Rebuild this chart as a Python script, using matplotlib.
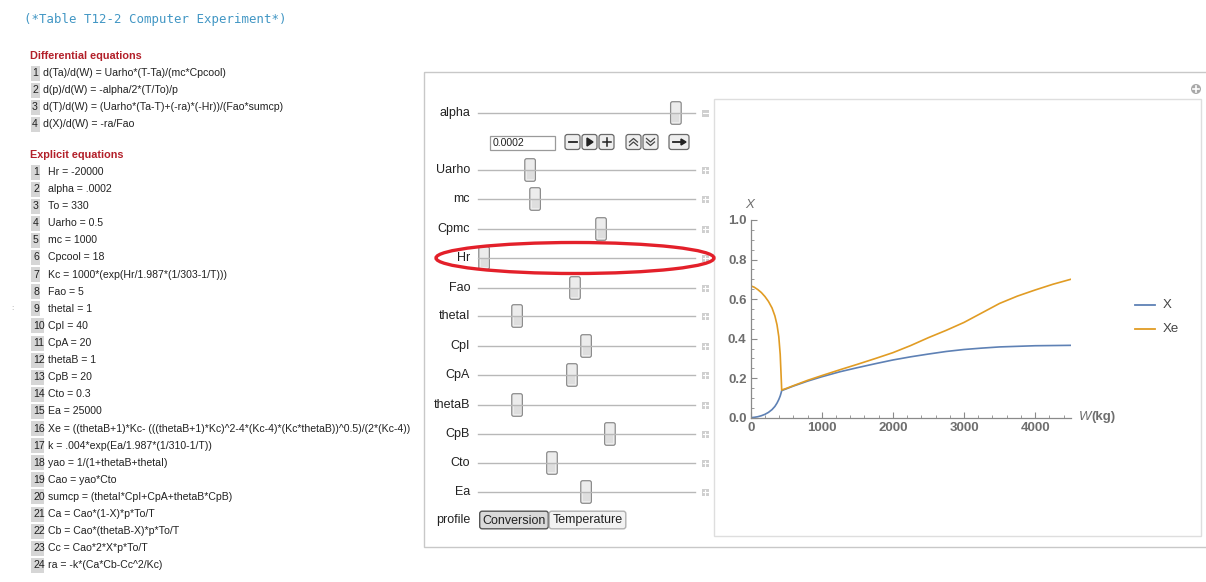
import matplotlib
matplotlib.use("Agg")
import matplotlib.pyplot as plt
from matplotlib.patches import Rectangle, FancyBboxPatch, Ellipse, Circle

# ---------------- data ----------------
title_text = "(*Table T12-2 Computer Experiment*)"
diff_title = "Differential equations"
diff_eqs = [
    "d(Ta)/d(W) = Uarho*(T-Ta)/(mc*Cpcool)",
    "d(p)/d(W) = -alpha/2*(T/To)/p",
    "d(T)/d(W) = (Uarho*(Ta-T)+(-ra)*(-Hr))/(Fao*sumcp)",
    "d(X)/d(W) = -ra/Fao",
]
expl_title = "Explicit equations"
expl_eqs = [
    "Hr = -20000",
    "alpha = .0002",
    "To = 330",
    "Uarho = 0.5",
    "mc = 1000",
    "Cpcool = 18",
    "Kc = 1000*(exp(Hr/1.987*(1/303-1/T)))",
    "Fao = 5",
    "thetaI = 1",
    "CpI = 40",
    "CpA = 20",
    "thetaB = 1",
    "CpB = 20",
    "Cto = 0.3",
    "Ea = 25000",
    "Xe = ((thetaB+1)*Kc- (((thetaB+1)*Kc)^2-4*(Kc-4)*(Kc*thetaB))^0.5)/(2*(Kc-4))",
    "k = .004*exp(Ea/1.987*(1/310-1/T))",
    "yao = 1/(1+thetaB+thetaI)",
    "Cao = yao*Cto",
    "sumcp = (thetaI*CpI+CpA+thetaB*CpB)",
    "Ca = Cao*(1-X)*p*To/T",
    "Cb = Cao*(thetaB-X)*p*To/T",
    "Cc = Cao*2*X*p*To/T",
    "ra = -k*(Ca*Cb-Cc^2/Kc)",
]
slider_names = ["alpha", "Uarho", "mc", "Cpmc", "Hr", "Fao", "thetaI",
                "CpI", "CpA", "thetaB", "CpB", "Cto", "Ea"]
slider_frac = [0.912, 0.240, 0.263, 0.567, 0.028, 0.447, 0.180,
               0.498, 0.433, 0.180, 0.608, 0.341, 0.498]
alpha_value = "0.0002"
profile_options = ["Conversion", "Temperature"]

W_kg = [0, 50, 100, 150, 200, 250, 300, 340, 370, 395, 415, 428, 436,
        500, 600, 800, 1000, 1250, 1500, 1750, 2000, 2250, 2500, 2750,
        3000, 3250, 3500, 3750, 4000, 4250, 4500]
X_conv = [0.0, 0.002, 0.005, 0.010, 0.017, 0.027, 0.041, 0.057, 0.074, 0.092,
          0.110, 0.126, 0.137,
          0.146, 0.160, 0.185, 0.207, 0.232, 0.253, 0.273, 0.292, 0.308,
          0.322, 0.335, 0.345, 0.352, 0.358, 0.361, 0.364, 0.365, 0.366]
Xe_eq = [0.667, 0.660, 0.648, 0.633, 0.613, 0.588, 0.555, 0.515, 0.470, 0.410,
         0.320, 0.210, 0.140,
         0.148, 0.162, 0.189, 0.213, 0.242, 0.270, 0.299, 0.329, 0.365,
         0.405, 0.442, 0.482, 0.530, 0.578, 0.615, 0.646, 0.675, 0.700]
xticks = [0, 1000, 2000, 3000, 4000]
yticks = [0.0, 0.2, 0.4, 0.6, 0.8, 1.0]
series_labels = ["X", "Xe"]

# ---------------- figure ----------------
FW, FH = 1206, 582
fig = plt.figure(figsize=(FW / 100, FH / 100), dpi=100)
fig.patch.set_facecolor("white")
bg = fig.add_axes([0, 0, 1, 1])
bg.set_xlim(0, FW)
bg.set_ylim(FH, 0)
bg.axis("off")

SANS = "Liberation Sans"

# title
bg.text(24, 20, title_text, family="DejaVu Sans Mono", fontsize=8.9,
        color="#4196c4", va="center", ha="left")

red = "#b3202a"
bg.text(30, 56, diff_title, family=SANS, fontsize=7.8, weight="bold",
        color=red, va="center")
for i, eq in enumerate(diff_eqs):
    y = 73 + 17 * i
    bg.add_patch(Rectangle((30.5, y - 7.5), 9, 15, facecolor="#d6d6d6",
                           edgecolor="none"))
    bg.text(35, y, str(i + 1), family=SANS, fontsize=7.6, color="#222",
            va="center", ha="center")
    bg.text(43, y, eq, family=SANS, fontsize=7.6, color="#222", va="center")

bg.text(30, 155.5, expl_title, family=SANS, fontsize=7.8, weight="bold",
        color=red, va="center")
for i, eq in enumerate(expl_eqs):
    y = 172 + 17.1 * i
    w = 9 if i < 9 else 13
    bg.add_patch(Rectangle((31, y - 7.5), w, 15, facecolor="#d6d6d6",
                           edgecolor="none"))
    bg.text(33, y, str(i + 1), family=SANS, fontsize=7.6, color="#222",
            va="center", ha="left")
    bg.text(48, y, eq, family=SANS, fontsize=7.6, color="#222", va="center")
bg.text(12, 309, ":", family=SANS, fontsize=6, color="#999", va="center",
        ha="center")

# panel
bg.add_patch(Rectangle((423.5, 71.5), 790, 475, facecolor="none",
                       edgecolor="#c8c8c8", lw=1))
bg.add_patch(Rectangle((713.5, 98.5), 487, 437.5, facecolor="none",
                       edgecolor="#dedede", lw=1))
bg.add_patch(Circle((1196, 89), 5, facecolor="#a8a8a8", edgecolor="none"))
bg.plot([1193, 1199], [89, 89], color="white", lw=1.2)
bg.plot([1196, 1196], [86, 92], color="white", lw=1.2)

# sliders
rows_y = [113, 170, 199, 229, 258, 288, 316, 346, 375, 405, 434, 463, 492]
TX0, TX1 = 478, 695
for name, fr, y in zip(slider_names, slider_frac, rows_y):
    bg.text(470, y, name, family=SANS, fontsize=9, color="#222",
            va="center", ha="right")
    bg.plot([TX0, TX1], [y, y], color="#b8b8b8", lw=1)
    cx = TX0 + fr * (TX1 - TX0)
    bg.add_patch(FancyBboxPatch((cx - 4.5, y - 10.5), 9, 21,
                                boxstyle="round,pad=0.8,rounding_size=2",
                                facecolor="#ececec", edgecolor="#8c8c8c",
                                lw=0.9))
    bg.add_patch(Rectangle((cx - 3.5, y + 1), 7, 8, facecolor="#dedede",
                           edgecolor="none"))
    bg.add_patch(Rectangle((701.5, y - 3.5), 7, 7, facecolor="#cfcfcf",
                           edgecolor="none"))
    bg.plot([702.5, 707.5], [y, y], color="white", lw=0.8)
    if name != "alpha":
        bg.plot([705, 705], [y - 2.5, y + 2.5], color="white", lw=0.8)

# alpha animator controls
cy = 142
bg.add_patch(Rectangle((489.5, 135.5), 65, 14, facecolor="white",
                       edgecolor="#9a9a9a", lw=0.9))
bg.text(493, cy + 0.5, alpha_value, family=SANS, fontsize=7.6, color="#222",
        va="center")
btns = [(565, 15), (582, 15), (599, 15), (626, 15), (643, 15), (669, 20)]
for bx, bw in btns:
    bg.add_patch(FancyBboxPatch((bx + 1, cy - 6.5), bw - 2, 13,
                                boxstyle="round,pad=1,rounding_size=2.5",
                                facecolor="#eeeeee", edgecolor="#6a6a6a",
                                lw=0.9))
k = "#222"
bg.plot([568.5, 576.5], [cy, cy], color=k, lw=1.3)
bg.fill([587, 587, 593], [cy - 4, cy + 4, cy], color=k)
bg.plot([602.5, 610.5], [cy, cy], color=k, lw=1.1)
bg.plot([606.5, 606.5], [cy - 4, cy + 4], color=k, lw=1.1)
for dy in (-2, 1.5):
    bg.plot([629.5, 633.5, 637.5], [cy + dy + 2, cy + dy - 1.5, cy + dy + 2],
            color="#444", lw=0.9)
    bg.plot([646.5, 650.5, 654.5], [cy + dy - 1.5, cy + dy + 2, cy + dy - 1.5],
            color="#444", lw=0.9)
bg.plot([672.5, 682], [cy, cy], color=k, lw=1.3)
bg.fill([681, 681, 686], [cy - 3, cy + 3, cy], color=k)

# profile setter
py = 520
bg.text(470, py, "profile", family=SANS, fontsize=9, color="#222",
        va="center", ha="right")
bg.add_patch(FancyBboxPatch((480.5, py - 8), 67, 16,
                            boxstyle="round,pad=0.8,rounding_size=2.5",
                            facecolor="#d9d9d9", edgecolor="#555555", lw=1))
bg.add_patch(FancyBboxPatch((550, py - 8), 75, 16,
                            boxstyle="round,pad=0.8,rounding_size=2.5",
                            facecolor="#f2f2f2", edgecolor="#b0b0b0", lw=1))
bg.text(514, py + 0.5, profile_options[0], family=SANS, fontsize=9,
        color="#222", va="center", ha="center")
bg.text(587.5, py + 0.5, profile_options[1], family=SANS, fontsize=9,
        color="#222", va="center", ha="center")

# red ellipse
bg.add_patch(Ellipse((575, 258), 278, 31, facecolor="none",
                     edgecolor="#e3202a", lw=2.4, zorder=10))

# ---------------- plot ----------------
x0, x1 = 750.7, 1070.7
yb, yt = 417.7, 220.0
ax = fig.add_axes([x0 / FW, 1 - yb / FH, (x1 - x0) / FW, (yb - yt) / FH])
ax.set_facecolor("none")
blue = "#5E81B5"
orange = "#E19C24"
ax.plot(W_kg, X_conv, color=blue, lw=1.2, label=series_labels[0])
ax.plot(W_kg, Xe_eq, color=orange, lw=1.2, label=series_labels[1])
ax.set_xlim(0, 4500)
ax.set_ylim(0, 1.0)
for s in ("top", "right"):
    ax.spines[s].set_visible(False)
axc = "#8a8a8a"
for s in ("left", "bottom"):
    ax.spines[s].set_color(axc)
    ax.spines[s].set_linewidth(0.9)
ax.set_xticks(xticks)
ax.set_yticks(yticks)
ax.set_yticklabels([f"{v:.1f}" for v in yticks])
ax.set_xticks([v for v in range(200, 4500, 200) if v % 1000], minor=True)
ax.set_yticks([i * 0.05 for i in range(21) if i % 4], minor=True)
ax.tick_params(which="both", direction="in", color=axc)
ax.tick_params(which="major", length=4, width=0.8, labelsize=9.5,
               labelcolor="#6e6e6e", pad=3)
ax.tick_params(which="minor", length=2.3, width=0.6)
for lab in ax.get_xticklabels() + ax.get_yticklabels():
    lab.set_fontweight("bold")
    lab.set_family(SANS)

bg.text(750, 205, "X", family=SANS, style="italic", fontsize=9.5,
        color="#6e6e6e", ha="center", va="center")
bg.text(1079, 417, "W", family=SANS, style="italic", fontsize=9.5,
        color="#6e6e6e", ha="left", va="center")
bg.text(1091, 417, "(kg)", family=SANS, weight="bold", fontsize=9.5,
        color="#6e6e6e", ha="left", va="center")

# legend
for lbl, col, ly in zip(series_labels, [blue, orange], [304.5, 329]):
    bg.plot([1135, 1155], [ly, ly], color=col, lw=1.3)
    bg.text(1163, ly, lbl, family=SANS, fontsize=9.5, color="#444",
            va="center", ha="left")

fig.savefig("out.png", dpi=100)
